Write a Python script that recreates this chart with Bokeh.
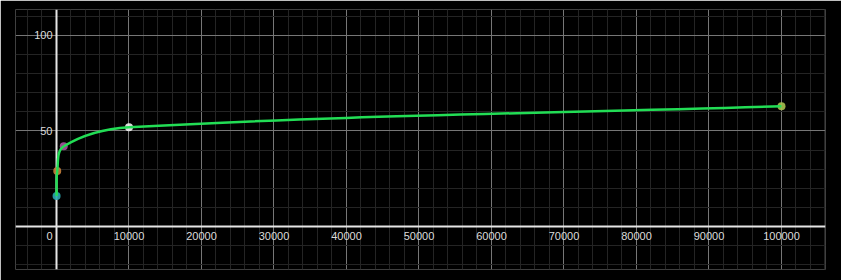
import numpy as np
from bokeh.plotting import figure
from bokeh.models import FixedTicker, Range1d, ColumnDataSource, BasicTickFormatter
from bokeh.core.properties import value
from bokeh.embed import file_html
from bokeh.resources import INLINE

# ---- data ----
x_vals = [10, 100, 1000, 10000, 100000]
y_vals = [16, 29, 42, 52, 63]
point_colors = ["#2aa8b0", "#c8803a", "#a8509e", "#f2f2f2", "#a8c04e"]
x_tick_vals = [10000, 20000, 30000, 40000, 50000, 60000, 70000, 80000, 90000, 100000]
y_tick_vals = [50, 100]
x_minor_vals = list(range(-4000, 106001, 2000))
y_minor_vals = list(range(-20, 111, 10))

W, H = 841, 280
ML, MR, MT, MB = 15, 16, 9, 11
FW, FH = W - ML - MR, H - MT - MB
x0, x1 = -5655, 106069
y0, y1 = -22.5, 113.6

p = figure(width=W, height=H, output_backend="svg", toolbar_location=None,
           x_range=Range1d(x0, x1), y_range=Range1d(y0, y1),
           min_border_left=ML, min_border_right=MR, min_border_top=MT, min_border_bottom=MB,
           background_fill_color="black", border_fill_color="black", outline_line_color=None)

# axes in the middle
for ax, ticks, minors in ((p.xaxis[0], x_tick_vals, x_minor_vals), (p.yaxis[0], y_tick_vals, y_minor_vals)):
    ax.ticker = FixedTicker(ticks=ticks, minor_ticks=minors)
    ax.formatter = BasicTickFormatter(use_scientific=False)
    ax.fixed_location = 0
    ax.level = "underlay"
    ax.axis_line_color = "#e6e6e6"
    ax.axis_line_width = 2
    ax.major_tick_line_color = None
    ax.minor_tick_line_color = None
    ax.major_tick_in = 0
    ax.major_tick_out = 0
    ax.minor_tick_in = 0
    ax.minor_tick_out = 0
    ax.major_label_text_color = "#dcdcdc"
    ax.major_label_text_font = "Liberation Sans"
    ax.major_label_text_font_size = "11px"
p.xaxis.major_label_standoff = 5
p.yaxis.major_label_standoff = 4

for g in (p.xgrid[0], p.ygrid[0]):
    g.level = "image"
    g.grid_line_color = "#767676"
    g.grid_line_width = 1
    g.minor_grid_line_color = "#242424"
    g.minor_grid_line_width = 1

# origin label
p.text(x=[0], y=[0], text=["0"], x_offset=-7, y_offset=5, text_align="center",
       text_baseline="top", text_color="#dcdcdc", text_font=value("Liberation Sans"),
       text_font_size="11px")

# points
p.scatter(x=x_vals, y=y_vals, size=8, fill_color=point_colors, line_color=None, fill_alpha=0.9)

# smooth curve through the points (bezier segments, control points from data in screen space)
kx = FW / (x1 - x0)
ky = FH / (y1 - y0)
P = np.column_stack([np.array(x_vals, float) * kx, np.array(y_vals, float) * ky])
n = len(P)
tang = []
for i in range(n):
    a = P[max(i - 1, 0)]
    b = P[min(i + 1, n - 1)]
    d = b - a
    tang.append(d / np.hypot(*d))
x0s, y0s, x1s, y1s, cx0, cy0, cx1, cy1 = [], [], [], [], [], [], [], []
for i in range(n - 1):
    L = np.hypot(*(P[i + 1] - P[i])) / 3
    c0 = P[i] + tang[i] * L
    c1 = P[i + 1] - tang[i + 1] * L
    x0s.append(P[i][0] / kx); y0s.append(P[i][1] / ky)
    x1s.append(P[i + 1][0] / kx); y1s.append(P[i + 1][1] / ky)
    cx0.append(c0[0] / kx); cy0.append(c0[1] / ky)
    cx1.append(c1[0] / kx); cy1.append(c1[1] / ky)
src = ColumnDataSource(dict(x0=x0s, y0=y0s, x1=x1s, y1=y1s, cx0=cx0, cy0=cy0, cx1=cx1, cy1=cy1))
p.bezier(x0="x0", y0="y0", x1="x1", y1="y1", cx0="cx0", cy0="cy0", cx1="cx1", cy1="cy1",
         source=src, line_color="#22dd55", line_width=2.5)

open("out.html", "w").write(file_html(p, INLINE))
